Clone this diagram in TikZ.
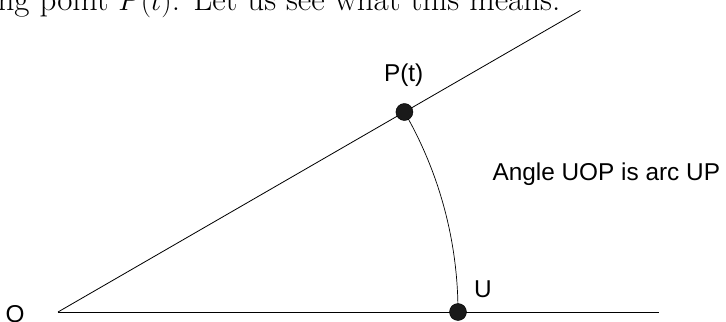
\documentclass[tikz,border=0pt]{standalone}
\usepackage{fontspec}
\usepackage{tikz}
\usetikzlibrary{positioning,calc}
\newfontfamily\labelfont{Liberation Sans}
\definecolor{dotfill}{HTML}{1A1A1A}

\begin{document}
\begin{tikzpicture}[
    ray/.style={draw=black, line width=0.7pt},
    dot/.style={circle, fill=dotfill, draw=black, line width=0.4pt, minimum size=0.51cm, inner sep=0pt},
    lbl/.style={font=\labelfont\fontsize{20.8}{25}\selectfont, inner sep=0pt}
]
    \useasboundingbox (-1.74,-0.27) rectangle (20.04,9.36);

    % cut-off line of running text above the figure
    \node[anchor=base west, inner sep=0pt, font=\fontsize{28.2}{33}\selectfont] (txt) at (-1.82,9.06) {ng point $P(t)$. Let us see what this means.};

    \coordinate (o) at (0,0);
    \coordinate (xend) at (18.03,0);
    \coordinate (rend) at (30:18.1);

    \draw[ray] (o) -- (xend);
    \draw[ray] (o) -- (rend);
    \draw[line width=0.6pt] (12,0) arc[start angle=0, end angle=30, radius=12];

    \node[dot] (u) at (12,0) {};
    \node[dot] (p) at (30:12) {};

    \node[lbl] (olabel) at (-1.29,-0.06) {O};
    \node[lbl] (ulabel) at (12.75,0.69) {U};
    \node[lbl] (plabel) at (10.37,7.1) {P(t)};
    \node[lbl] (note) at (16.45,4.14) {Angle UOP is arc UP};
\end{tikzpicture}
\end{document}
